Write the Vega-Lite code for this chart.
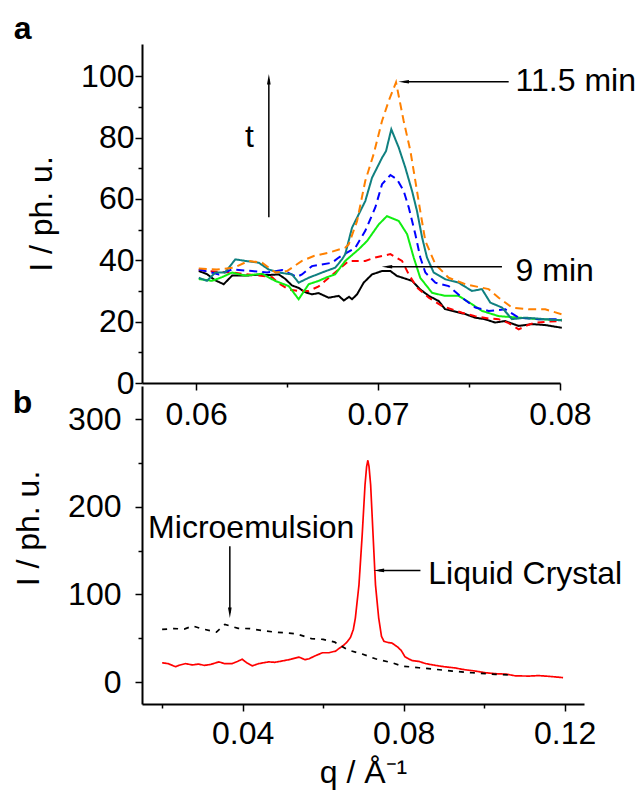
{
  "$schema": "https://vega.github.io/schema/vega-lite/v6.json",
  "background": "white",
  "padding": {"left": 12, "top": 13, "right": 5, "bottom": 5},
  "bounds": "flush",
  "spacing": 3,
  "resolve": {"scale": {"color": "independent", "strokeDash": "independent", "shape": "independent"}},
  "config": {
    "view": {"stroke": null},
    "font": "Liberation Sans",
    "axis": {
      "grid": false,
      "domainColor": "black",
      "domainWidth": 2,
      "tickColor": "black",
      "tickWidth": 1.5,
      "labelColor": "black",
      "labelFont": "Liberation Sans",
      "labelFontSize": 32,
      "titleFont": "Liberation Sans",
      "titleFontSize": 32,
      "titleFontWeight": "normal",
      "titleColor": "black",
      "labelOverlap": false,
      "labelFlush": false,
      "labelBound": false
    }
  },
  "vconcat": [
    {
      "width": 418,
      "height": 339,
      "encoding": {
        "x": {"field": "q", "type": "quantitative",
          "scale": {"domain": [0.05703, 0.08], "nice": false, "zero": false},
          "axis": {"title": null, "values": [0.06, 0.065, 0.07, 0.075, 0.08], "format": ".2f",
            "labelExpr": "round(datum.value*1000) % 10 == 0 ? datum.label : ''",
            "tickSize": {"condition": {"test": "round(datum.value*1000) % 10 == 0", "value": 7}, "value": 4},
            "labelPadding": 9}},
        "y": {"field": "I", "type": "quantitative",
          "scale": {"domain": [0, 110.5], "nice": false, "zero": false},
          "axis": {"title": "I / ph. u.", "values": [0, 10, 20, 30, 40, 50, 60, 70, 80, 90, 100],
            "labelExpr": "datum.value % 20 == 0 ? datum.label : ''",
            "tickSize": {"condition": {"test": "datum.value % 20 == 0", "value": 7}, "value": 4},
            "labelPadding": 1, "titlePadding": 22}}
      },
      "layer": [
        {
          "data": {"values": [
            {"s":"9","q":0.06015,"I":36.5},{"s":"9","q":0.0606,"I":35.5},{"s":"9","q":0.06104,"I":33.5},{"s":"9","q":0.06152,"I":32.2},{"s":"9","q":0.06198,"I":35},{"s":"9","q":0.06269,"I":35},{"s":"9","q":0.06345,"I":35.3},{"s":"9","q":0.06399,"I":35.2},{"s":"9","q":0.06454,"I":35.4},{"s":"9","q":0.06489,"I":34},{"s":"9","q":0.06527,"I":31.8},{"s":"9","q":0.06564,"I":31},{"s":"9","q":0.06599,"I":29.6},{"s":"9","q":0.06637,"I":28.9},{"s":"9","q":0.06674,"I":29.3},{"s":"9","q":0.06729,"I":27.8},{"s":"9","q":0.06784,"I":28.4},{"s":"9","q":0.06812,"I":26.9},{"s":"9","q":0.06841,"I":28.1},{"s":"9","q":0.06857,"I":27.3},{"s":"9","q":0.06885,"I":28.9},{"s":"9","q":0.06921,"I":32.7},{"s":"9","q":0.06967,"I":35.4},{"s":"9","q":0.07022,"I":36.5},{"s":"9","q":0.07068,"I":36.5},{"s":"9","q":0.07104,"I":34.9},{"s":"9","q":0.07187,"I":33.3},{"s":"9","q":0.07232,"I":30.5},{"s":"9","q":0.07279,"I":28.4},{"s":"9","q":0.07334,"I":26.7},{"s":"9","q":0.07368,"I":24.1},{"s":"9","q":0.07407,"I":23.5},{"s":"9","q":0.07478,"I":22.5},{"s":"9","q":0.07533,"I":21.3},{"s":"9","q":0.07588,"I":20.8},{"s":"9","q":0.07643,"I":19.7},{"s":"9","q":0.07698,"I":20.2},{"s":"9","q":0.07773,"I":18.6},{"s":"9","q":0.07846,"I":19.2},{"s":"9","q":0.07918,"I":18.9},{"s":"9","q":0.0801,"I":18},
            {"s":"9.5","q":0.06015,"I":37},{"s":"9.5","q":0.0606,"I":36.5},{"s":"9.5","q":0.06125,"I":36.2},{"s":"9.5","q":0.06198,"I":36},{"s":"9.5","q":0.06269,"I":35.5},{"s":"9.5","q":0.06345,"I":35},{"s":"9.5","q":0.06418,"I":34.5},{"s":"9.5","q":0.06454,"I":32.5},{"s":"9.5","q":0.06509,"I":30.5},{"s":"9.5","q":0.06564,"I":30},{"s":"9.5","q":0.06619,"I":30},{"s":"9.5","q":0.06674,"I":31.5},{"s":"9.5","q":0.0671,"I":33.3},{"s":"9.5","q":0.06784,"I":37},{"s":"9.5","q":0.06839,"I":39.8},{"s":"9.5","q":0.0693,"I":39.8},{"s":"9.5","q":0.06985,"I":40.9},{"s":"9.5","q":0.07068,"I":42},{"s":"9.5","q":0.07132,"I":39.8},{"s":"9.5","q":0.07169,"I":35.4},{"s":"9.5","q":0.07214,"I":31.1},{"s":"9.5","q":0.07279,"I":27.8},{"s":"9.5","q":0.07352,"I":25.1},{"s":"9.5","q":0.07407,"I":24},{"s":"9.5","q":0.07462,"I":22.9},{"s":"9.5","q":0.07533,"I":21.8},{"s":"9.5","q":0.07608,"I":21},{"s":"9.5","q":0.07663,"I":20.8},{"s":"9.5","q":0.07718,"I":19.5},{"s":"9.5","q":0.07773,"I":17.5},{"s":"9.5","q":0.07828,"I":19},{"s":"9.5","q":0.07863,"I":19.7},{"s":"9.5","q":0.07938,"I":20},{"s":"9.5","q":0.0801,"I":20.2},
            {"s":"10","q":0.06015,"I":33.9},{"s":"10","q":0.06088,"I":33.3},{"s":"10","q":0.06143,"I":34.5},{"s":"10","q":0.06198,"I":36},{"s":"10","q":0.06269,"I":35},{"s":"10","q":0.06363,"I":35.6},{"s":"10","q":0.06434,"I":33.3},{"s":"10","q":0.06509,"I":31.6},{"s":"10","q":0.06564,"I":27.3},{"s":"10","q":0.06619,"I":32.2},{"s":"10","q":0.06674,"I":33.3},{"s":"10","q":0.0672,"I":34.5},{"s":"10","q":0.06764,"I":35.4},{"s":"10","q":0.0682,"I":39.8},{"s":"10","q":0.06894,"I":43.6},{"s":"10","q":0.0694,"I":46.3},{"s":"10","q":0.07004,"I":51.7},{"s":"10","q":0.07049,"I":54.4},{"s":"10","q":0.07114,"I":52.8},{"s":"10","q":0.0716,"I":48.5},{"s":"10","q":0.07196,"I":40.9},{"s":"10","q":0.07232,"I":34.3},{"s":"10","q":0.07297,"I":29.4},{"s":"10","q":0.07368,"I":28.4},{"s":"10","q":0.07443,"I":28.4},{"s":"10","q":0.07516,"I":25.7},{"s":"10","q":0.07571,"I":23.5},{"s":"10","q":0.07663,"I":21.8},{"s":"10","q":0.07773,"I":21.3},{"s":"10","q":0.07883,"I":20.8},{"s":"10","q":0.0801,"I":20.5},
            {"s":"10.5","q":0.06015,"I":37},{"s":"10.5","q":0.06125,"I":35.4},{"s":"10.5","q":0.06198,"I":37},{"s":"10.5","q":0.06308,"I":36.5},{"s":"10.5","q":0.0639,"I":36},{"s":"10.5","q":0.06473,"I":36.8},{"s":"10.5","q":0.06555,"I":34.6},{"s":"10.5","q":0.06582,"I":35.4},{"s":"10.5","q":0.06637,"I":38.1},{"s":"10.5","q":0.06747,"I":39.2},{"s":"10.5","q":0.06784,"I":40.9},{"s":"10.5","q":0.06875,"I":44.1},{"s":"10.5","q":0.0693,"I":49.6},{"s":"10.5","q":0.06985,"I":57.2},{"s":"10.5","q":0.07022,"I":64.8},{"s":"10.5","q":0.07068,"I":67.8},{"s":"10.5","q":0.07104,"I":66.4},{"s":"10.5","q":0.07141,"I":62.6},{"s":"10.5","q":0.07169,"I":57.2},{"s":"10.5","q":0.07205,"I":48.5},{"s":"10.5","q":0.07232,"I":41},{"s":"10.5","q":0.0726,"I":36},{"s":"10.5","q":0.07315,"I":32.7},{"s":"10.5","q":0.07388,"I":31.6},{"s":"10.5","q":0.07462,"I":27.8},{"s":"10.5","q":0.07535,"I":24.6},{"s":"10.5","q":0.07608,"I":23.5},{"s":"10.5","q":0.077,"I":24},{"s":"10.5","q":0.07773,"I":21.3},{"s":"10.5","q":0.07883,"I":20.8},{"s":"10.5","q":0.0801,"I":20.8},
            {"s":"11","q":0.06015,"I":34.3},{"s":"11","q":0.0606,"I":33.3},{"s":"11","q":0.06106,"I":36},{"s":"11","q":0.06159,"I":36},{"s":"11","q":0.06216,"I":40.3},{"s":"11","q":0.06271,"I":39.8},{"s":"11","q":0.06345,"I":39.2},{"s":"11","q":0.06399,"I":37},{"s":"11","q":0.06454,"I":36},{"s":"11","q":0.06527,"I":35.4},{"s":"11","q":0.06564,"I":32.7},{"s":"11","q":0.06619,"I":34.3},{"s":"11","q":0.06692,"I":36},{"s":"11","q":0.06765,"I":37.6},{"s":"11","q":0.06802,"I":40.3},{"s":"11","q":0.0682,"I":42},{"s":"11","q":0.06857,"I":50.6},{"s":"11","q":0.06894,"I":55},{"s":"11","q":0.0693,"I":59.3},{"s":"11","q":0.06967,"I":66.9},{"s":"11","q":0.07022,"I":73.4},{"s":"11","q":0.07044,"I":75.6},{"s":"11","q":0.07073,"I":82.7},{"s":"11","q":0.07114,"I":76.7},{"s":"11","q":0.0715,"I":70.2},{"s":"11","q":0.07187,"I":62.6},{"s":"11","q":0.07214,"I":56.1},{"s":"11","q":0.07242,"I":47.5},{"s":"11","q":0.07269,"I":40.9},{"s":"11","q":0.07306,"I":36},{"s":"11","q":0.0737,"I":33.8},{"s":"11","q":0.07443,"I":32.7},{"s":"11","q":0.07516,"I":30},{"s":"11","q":0.07571,"I":30.6},{"s":"11","q":0.07617,"I":26.2},{"s":"11","q":0.07681,"I":24.6},{"s":"11","q":0.07736,"I":20.8},{"s":"11","q":0.0781,"I":21.3},{"s":"11","q":0.07919,"I":20.8},{"s":"11","q":0.0801,"I":20.4},
            {"s":"11.5","q":0.06015,"I":37.3},{"s":"11.5","q":0.06115,"I":37},{"s":"11.5","q":0.06207,"I":37.6},{"s":"11.5","q":0.0629,"I":39.8},{"s":"11.5","q":0.06363,"I":39.2},{"s":"11.5","q":0.06436,"I":36},{"s":"11.5","q":0.065,"I":36.5},{"s":"11.5","q":0.06582,"I":39.8},{"s":"11.5","q":0.06647,"I":41.4},{"s":"11.5","q":0.06729,"I":42.5},{"s":"11.5","q":0.0682,"I":44.1},{"s":"11.5","q":0.06839,"I":45.2},{"s":"11.5","q":0.06885,"I":52.8},{"s":"11.5","q":0.0693,"I":65.9},{"s":"11.5","q":0.06976,"I":74.6},{"s":"11.5","q":0.07022,"I":85.4},{"s":"11.5","q":0.07059,"I":92},{"s":"11.5","q":0.07099,"I":98},{"s":"11.5","q":0.07141,"I":85.4},{"s":"11.5","q":0.07178,"I":75.6},{"s":"11.5","q":0.07205,"I":65.9},{"s":"11.5","q":0.07232,"I":56.1},{"s":"11.5","q":0.0726,"I":46.3},{"s":"11.5","q":0.07315,"I":38.7},{"s":"11.5","q":0.07388,"I":34.3},{"s":"11.5","q":0.0748,"I":32.2},{"s":"11.5","q":0.07608,"I":30.6},{"s":"11.5","q":0.07663,"I":27.8},{"s":"11.5","q":0.07736,"I":24.6},{"s":"11.5","q":0.07828,"I":24},{"s":"11.5","q":0.07919,"I":24},{"s":"11.5","q":0.0801,"I":22.4}
          ]},
          "mark": {"type": "line", "strokeWidth": 2},
          "encoding": {
            "color": {"field": "s", "type": "nominal", "legend": null,
              "scale": {"domain": ["9", "9.5", "10", "10.5", "11", "11.5"], "range": ["#000000", "#ff0000", "#11ee11", "#0000ff", "#108080", "#ff8000"]}},
            "strokeDash": {"field": "s", "type": "nominal", "legend": null,
              "scale": {"domain": ["9", "9.5", "10", "10.5", "11", "11.5"], "range": [[1, 0], [7, 5], [1, 0], [8, 5], [1, 0], [8, 5]]}}
          }
        },
        {
          "data": {"values": [
            {"q": 0.064, "q2": 0.064, "I": 54, "I2": 99},
            {"q": 0.07141, "q2": 0.07718, "I": 98.2, "I2": 98.2},
            {"q": 0.07049, "q2": 0.07681, "I": 37.9, "I2": 37.9}
          ]},
          "mark": {"type": "rule", "color": "black", "strokeWidth": 1.5},
          "encoding": {"x2": {"field": "q2"}, "y2": {"field": "I2"}}
        },
        {
          "data": {"values": [
            {"q": 0.064, "I": 99, "dir": "up"},
            {"q": 0.07141, "I": 98.2, "dir": "left"},
            {"q": 0.07049, "I": 37.9, "dir": "left"}
          ]},
          "mark": {"type": "point", "filled": true, "color": "black", "opacity": 1, "size": 110, "strokeWidth": 0},
          "encoding": {"shape": {"field": "dir", "type": "nominal", "legend": null,
            "scale": {"domain": ["left", "up", "down"], "range": ["M -1 0 L 1 -0.35 L 1 0.35 Z", "M 0 -1 L -0.35 1 L 0.35 1 Z", "M 0 1 L -0.35 -1 L 0.35 -1 Z"]}}}
        },
        {
          "data": {"values": [
            {"q": 0.06269, "I": 76.9, "label": "t"},
            {"q": 0.07756, "I": 95.2, "label": "11.5 min"},
            {"q": 0.07756, "I": 33.3, "label": "9 min"}
          ]},
          "mark": {"type": "text", "align": "left", "baseline": "alphabetic", "fontSize": 32, "font": "Liberation Sans", "color": "black"},
          "encoding": {"text": {"field": "label"}}
        },
        {
          "data": {"values": [
            {"q": 0.049978, "I": 112.06, "label": "a"}
          ]},
          "mark": {"type": "text", "align": "left", "baseline": "alphabetic", "fontSize": 32, "fontWeight": "bold", "font": "Liberation Sans", "color": "black"},
          "encoding": {"text": {"field": "label"}}
        }
      ]
    },
    {
      "width": 442,
      "height": 318,
      "encoding": {
        "x": {"field": "q", "type": "quantitative",
          "scale": {"domain": [0.015, 0.1248], "nice": false, "zero": false},
          "axis": {"title": "q / Å⁻¹", "values": [0.02, 0.04, 0.06, 0.08, 0.1, 0.12], "format": ".2f",
            "labelExpr": "round(datum.value*100) % 4 == 0 ? datum.label : ''",
            "tickSize": {"condition": {"test": "round(datum.value*100) % 4 == 0", "value": 7}, "value": 4},
            "labelPadding": 7, "titlePadding": 8}},
        "y": {"field": "I", "type": "quantitative",
          "scale": {"domain": [-25.1, 338], "nice": false, "zero": false},
          "axis": {"title": "I / ph. u.", "values": [0, 50, 100, 150, 200, 250, 300],
            "labelExpr": "datum.value % 100 == 0 ? datum.label : ''",
            "tickSize": {"condition": {"test": "datum.value % 100 == 0", "value": 7}, "value": 4},
            "labelPadding": 14, "titlePadding": 22, "titleY": 142}}
      },
      "layer": [
        {
          "data": {"values": [
            {"s":"LC","q":0.02,"I":22},{"s":"LC","q":0.0215,"I":21},{"s":"LC","q":0.0233,"I":17.5},{"s":"LC","q":0.0245,"I":19.5},{"s":"LC","q":0.0258,"I":21},{"s":"LC","q":0.0275,"I":19.5},{"s":"LC","q":0.029,"I":20.5},{"s":"LC","q":0.0305,"I":19},{"s":"LC","q":0.032,"I":20},{"s":"LC","q":0.0341,"I":23},{"s":"LC","q":0.0355,"I":21},{"s":"LC","q":0.0374,"I":21},{"s":"LC","q":0.0387,"I":23.5},{"s":"LC","q":0.0399,"I":26},{"s":"LC","q":0.041,"I":22},{"s":"LC","q":0.0424,"I":18.5},{"s":"LC","q":0.044,"I":21},{"s":"LC","q":0.0465,"I":23},{"s":"LC","q":0.048,"I":22.5},{"s":"LC","q":0.0506,"I":24.7},{"s":"LC","q":0.052,"I":26},{"s":"LC","q":0.054,"I":28.5},{"s":"LC","q":0.0555,"I":25.5},{"s":"LC","q":0.0565,"I":26.5},{"s":"LC","q":0.0578,"I":29.5},{"s":"LC","q":0.0589,"I":31.6},{"s":"LC","q":0.0598,"I":33.4},{"s":"LC","q":0.0614,"I":33.4},{"s":"LC","q":0.0631,"I":35.3},{"s":"LC","q":0.064,"I":38.5},{"s":"LC","q":0.0651,"I":42},{"s":"LC","q":0.066,"I":46},{"s":"LC","q":0.0668,"I":51},{"s":"LC","q":0.0675,"I":60},{"s":"LC","q":0.068,"I":73},{"s":"LC","q":0.0689,"I":111},{"s":"LC","q":0.0697,"I":168},{"s":"LC","q":0.0704,"I":225},{"s":"LC","q":0.0708,"I":246},{"s":"LC","q":0.0711,"I":253},{"s":"LC","q":0.0714,"I":246},{"s":"LC","q":0.0718,"I":225},{"s":"LC","q":0.0724,"I":168},{"s":"LC","q":0.073,"I":111},{"s":"LC","q":0.0738,"I":73},{"s":"LC","q":0.0745,"I":52},{"s":"LC","q":0.0751,"I":46.5},{"s":"LC","q":0.0762,"I":45},{"s":"LC","q":0.0771,"I":44.5},{"s":"LC","q":0.0785,"I":40},{"s":"LC","q":0.0794,"I":36},{"s":"LC","q":0.0803,"I":29},{"s":"LC","q":0.081,"I":27},{"s":"LC","q":0.0821,"I":24.5},{"s":"LC","q":0.0838,"I":23.5},{"s":"LC","q":0.0855,"I":21},{"s":"LC","q":0.0879,"I":19},{"s":"LC","q":0.09,"I":17.5},{"s":"LC","q":0.0929,"I":16},{"s":"LC","q":0.0945,"I":14.5},{"s":"LC","q":0.0978,"I":12.5},{"s":"LC","q":0.1003,"I":10.6},{"s":"LC","q":0.1028,"I":9.5},{"s":"LC","q":0.1055,"I":9},{"s":"LC","q":0.1078,"I":7},{"s":"LC","q":0.1111,"I":6.8},{"s":"LC","q":0.1135,"I":7.3},{"s":"LC","q":0.1161,"I":6.5},{"s":"LC","q":0.1196,"I":5},
            {"s":"ME","q":0.02,"I":60},{"s":"ME","q":0.0229,"I":61},{"s":"ME","q":0.0255,"I":60.5},{"s":"ME","q":0.0276,"I":64},{"s":"ME","q":0.0297,"I":61},{"s":"ME","q":0.0335,"I":57},{"s":"ME","q":0.0356,"I":65.8},{"s":"ME","q":0.0389,"I":61.2},{"s":"ME","q":0.0418,"I":61},{"s":"ME","q":0.0447,"I":58.9},{"s":"ME","q":0.048,"I":57},{"s":"ME","q":0.0505,"I":56.2},{"s":"ME","q":0.0534,"I":55},{"s":"ME","q":0.0571,"I":49.5},{"s":"ME","q":0.06,"I":48.7},{"s":"ME","q":0.0629,"I":45.5},{"s":"ME","q":0.0662,"I":36.5},{"s":"ME","q":0.0697,"I":32},{"s":"ME","q":0.073,"I":26.5},{"s":"ME","q":0.0771,"I":22},{"s":"ME","q":0.0796,"I":18.2},{"s":"ME","q":0.0838,"I":16.3},{"s":"ME","q":0.0879,"I":14.5},{"s":"ME","q":0.0921,"I":12.5},{"s":"ME","q":0.097,"I":10.6},{"s":"ME","q":0.1028,"I":8.8},{"s":"ME","q":0.107,"I":8}
          ]},
          "mark": {"type": "line", "strokeWidth": 1.7},
          "encoding": {
            "color": {"field": "s", "type": "nominal", "legend": null,
              "scale": {"domain": ["ME", "LC"], "range": ["#000000", "#ff0000"]}},
            "strokeDash": {"field": "s", "type": "nominal", "legend": null,
              "scale": {"domain": ["ME", "LC"], "range": [[5, 6], [1, 0]]}}
          }
        },
        {
          "data": {"values": [
            {"q": 0.03682, "q2": 0.03682, "I": 155, "I2": 79.1},
            {"q": 0.07384, "q2": 0.08417, "I": 127.4, "I2": 127.4}
          ]},
          "mark": {"type": "rule", "color": "black", "strokeWidth": 1.5},
          "encoding": {"x2": {"field": "q2"}, "y2": {"field": "I2"}}
        },
        {
          "data": {"values": [
            {"q": 0.03682, "I": 79.1, "dir": "down"},
            {"q": 0.07384, "I": 127.4, "dir": "left"}
          ]},
          "mark": {"type": "point", "filled": true, "color": "black", "opacity": 1, "size": 110, "strokeWidth": 0},
          "encoding": {"shape": {"field": "dir", "type": "nominal", "legend": null,
            "scale": {"domain": ["left", "up", "down"], "range": ["M -1 0 L 1 -0.35 L 1 0.35 Z", "M 0 -1 L -0.35 1 L 0.35 1 Z", "M 0 1 L -0.35 -1 L 0.35 -1 Z"]}}}
        },
        {
          "data": {"values": [
            {"q": 0.01652, "I": 164.8, "label": "Microemulsion"},
            {"q": 0.08611, "I": 111.6, "label": "Liquid Crystal"}
          ]},
          "mark": {"type": "text", "align": "left", "baseline": "alphabetic", "fontSize": 32, "font": "Liberation Sans", "color": "black"},
          "encoding": {"text": {"field": "label"}}
        },
        {
          "data": {"values": [
            {"q": -0.01709, "I": 307.5, "label": "b"}
          ]},
          "mark": {"type": "text", "align": "left", "baseline": "alphabetic", "fontSize": 32, "fontWeight": "bold", "font": "Liberation Sans", "color": "black"},
          "encoding": {"text": {"field": "label"}}
        }
      ]
    }
  ]
}
